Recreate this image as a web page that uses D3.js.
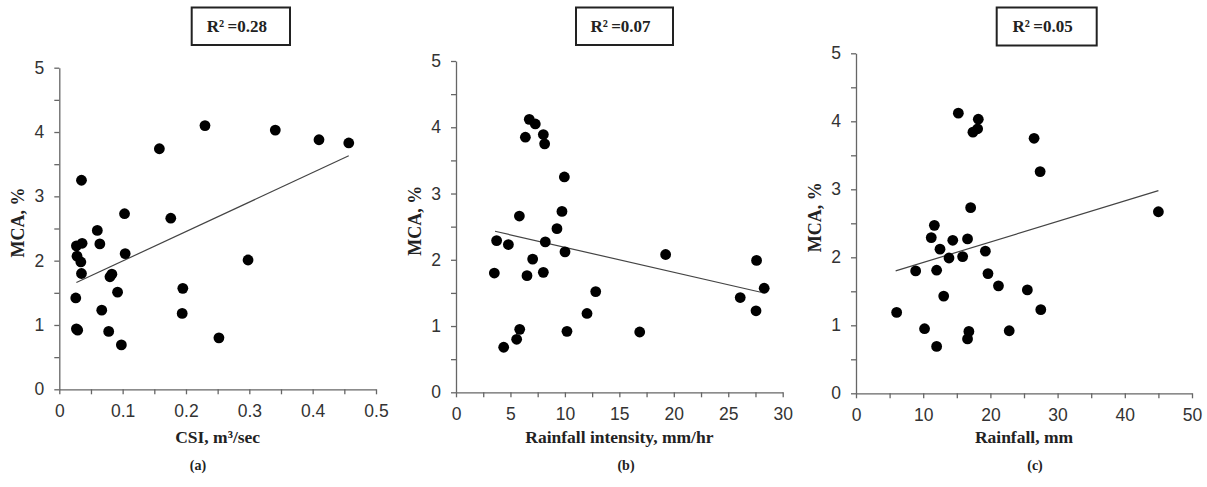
<!DOCTYPE html>
<html>
<head>
<meta charset="utf-8">
<script src="https://cdn.jsdelivr.net/npm/d3@7"></script>
<style>
  body { margin: 0; background: #fff; }
  .tick text { font-family: "Liberation Sans", Arial, sans-serif; font-size: 17.5px; fill: #333; }
  .lbl { font-family: "Liberation Serif", "Times New Roman", serif; font-weight: bold; fill: #222; }
</style>
</head>
<body>
<svg id="chart" width="1207" height="487"></svg>
<script>
// ---- data ----
const csiX  = [0.230, 0.341, 0.410, 0.457, 0.158, 0.035, 0.103, 0.176, 0.060, 0.064, 0.036, 0.027, 0.028, 0.034, 0.104,
               0.035, 0.298, 0.080, 0.083, 0.092, 0.195, 0.026, 0.067, 0.194, 0.027, 0.029, 0.078, 0.098, 0.252];
const csiY  = [4.10, 4.03, 3.88, 3.83, 3.74, 3.25, 2.73, 2.66, 2.47, 2.26, 2.27, 2.23, 2.07, 1.98, 2.11,
               1.80, 2.01, 1.75, 1.79, 1.51, 1.57, 1.42, 1.23, 1.18, 0.94, 0.92, 0.90, 0.69, 0.80];

const intX  = [6.73, 7.28, 8.02, 6.37, 8.14, 9.95, 9.73, 5.82, 9.27, 3.73, 4.81, 8.20, 10.01, 19.25, 7.04,
               27.6, 3.52, 6.52, 8.02, 12.83, 28.3, 26.1, 12.03, 27.55, 5.85, 10.19, 16.87, 5.57, 4.38];
const intY  = [4.12, 4.05, 3.89, 3.85, 3.75, 3.25, 2.73, 2.66, 2.47, 2.29, 2.23, 2.27, 2.12, 2.08, 2.01,
               1.99, 1.80, 1.76, 1.81, 1.52, 1.57, 1.43, 1.19, 1.23, 0.95, 0.92, 0.91, 0.80, 0.68];

const rainX = [15.23, 18.2, 18.1, 17.4, 26.5, 27.4, 17.06, 45.0, 11.66, 11.2, 14.4, 16.6, 12.5, 19.25, 15.87,
               13.84, 8.88, 12.0, 19.64, 21.2, 25.5, 13.05, 27.5, 6.05, 10.2, 16.8, 22.8, 16.6, 12.0];
const rainY = [4.12, 4.03, 3.89, 3.84, 3.75, 3.26, 2.73, 2.67, 2.47, 2.29, 2.25, 2.27, 2.12, 2.09, 2.01,
               1.99, 1.80, 1.81, 1.76, 1.58, 1.52, 1.43, 1.23, 1.19, 0.95, 0.91, 0.92, 0.80, 0.69];

// fitted lines (end points as drawn)
const trendA = [[0.027, 1.66], [0.457, 3.63]];
const trendB = [[3.58, 2.43], [28.0, 1.51]];
const trendC = [[5.9, 1.80], [45.0, 2.98]];

const yTicks = [0, 1, 2, 3, 4, 5];
const yMinor = [0.5, 1.5, 2.5, 3.5, 4.5];
const xTicksA = [0, 0.1, 0.2, 0.3, 0.4, 0.5];
const xTicksB = [0, 5, 10, 15, 20, 25, 30];
const xTicksC = [0, 10, 20, 30, 40, 50];

const r2Labels = ['R\u00B2\u2009=0.28', 'R\u00B2\u2009=0.07', 'R\u00B2\u2009=0.05'];
const xTitles = ['CSI, m\u00B3/sec', 'Rainfall intensity, mm/hr', 'Rainfall, mm'];
const tags = ['(a)', '(b)', '(c)'];
const yTitle = 'MCA, %';

// ---- layout ----
const panels = [
  { xs: csiX, ys: csiY, trend: trendA, ticks: xTicksA, step: 0.05, max: 0.5,
    left: 59.3, right: 376, top: 67.7, bottom: 389.3, box: [191.7, 7.5, 98.3, 37.5], tagX: 198 },
  { xs: intX, ys: intY, trend: trendB, ticks: xTicksB, step: 2.5, max: 30,
    left: 456, right: 782.7, top: 61, bottom: 392.3, box: [576, 7.5, 97, 37.5], tagX: 626 },
  { xs: rainX, ys: rainY, trend: trendC, ticks: xTicksC, step: 5, max: 50,
    left: 856, right: 1192, top: 53.3, bottom: 393.3, box: [996.7, 7.5, 100, 38], tagX: 1035 }
];

const svg = d3.select('#chart');

panels.forEach((p, i) => {
  const x = d3.scaleLinear().domain([0, p.max]).range([p.left, p.right]);
  const y = d3.scaleLinear().domain([0, 5]).range([p.bottom, p.top]);
  const g = svg.append('g');

  // x axis, minor ticks unlabeled
  const xAll = d3.range(0, p.max + p.step / 2, p.step);
  const xAx = d3.axisBottom(x).tickValues(xAll).tickSize(5).tickSizeOuter(0).tickPadding(10)
    .tickFormat(d => p.ticks.some(t => Math.abs(t - d) < 1e-9) ? d3.format('~g')(d) : '');
  const gx = g.append('g').attr('transform', `translate(0,${p.bottom})`).call(xAx);

  const yAll = yTicks.concat(yMinor).sort((a, b) => a - b);
  const yAx = d3.axisLeft(y).tickValues(yAll).tickSize(5).tickSizeOuter(0).tickPadding(10)
    .tickFormat(d => yTicks.includes(d) ? d : '');
  const gy = g.append('g').attr('transform', `translate(${p.left},0)`).call(yAx);

  [gx, gy].forEach(a => {
    a.select('.domain').attr('stroke', '#666').attr('stroke-width', 1.3);
    a.selectAll('.tick line').attr('stroke', '#666').attr('stroke-width', 1.3);
  });

  // trend line
  g.append('path')
    .datum(p.trend)
    .attr('d', d3.line().x(d => x(d[0])).y(d => y(d[1])))
    .attr('fill', 'none').attr('stroke', '#444').attr('stroke-width', 1.2);

  // points
  g.selectAll('circle').data(p.xs.map((v, k) => [v, p.ys[k]])).join('circle')
    .attr('cx', d => x(d[0])).attr('cy', d => y(d[1])).attr('r', 5.4).attr('fill', '#000');

  // titles
  const cx = (p.left + p.right) / 2;
  g.append('text').attr('class', 'lbl').attr('x', cx).attr('y', 443)
    .attr('text-anchor', 'middle').attr('font-size', 17.5).text(xTitles[i]);
  g.append('text').attr('class', 'lbl').attr('x', p.tagX).attr('y', 470)
    .attr('text-anchor', 'middle').attr('font-size', 14).text(tags[i]);
  g.append('text').attr('class', 'lbl')
    .attr('transform', `translate(${p.left - 35},${(p.top + p.bottom) / 2 - 6}) rotate(-90)`)
    .attr('text-anchor', 'middle').attr('font-size', 18).text(yTitle);

  // R² box
  const [bx, by, bw, bh] = p.box;
  g.append('rect').attr('x', bx).attr('y', by).attr('width', bw).attr('height', bh)
    .attr('fill', '#fff').attr('stroke', '#222').attr('stroke-width', 2);
  g.append('text').attr('class', 'lbl').attr('x', bx + bw / 2 - 4).attr('y', by + 24)
    .attr('text-anchor', 'middle').attr('font-size', 17).text(r2Labels[i]);
});
</script>
</body>
</html>
